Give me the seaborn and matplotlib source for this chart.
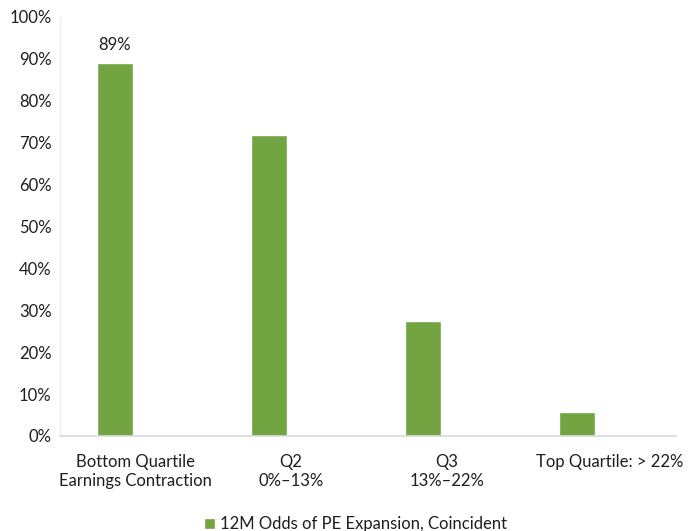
import matplotlib
matplotlib.use("Agg")
import matplotlib.pyplot as plt
import matplotlib.ticker as mticker
import numpy as np
import pandas as pd
import seaborn as sns

# Earnings-growth quartiles and the 12M odds of PE expansion in each
categories = ["Bottom Quartile\nEarnings Contraction", "Q2\n0%\u201313%", "Q3\n13%\u201322%", "Top Quartile: > 22%"]
odds = [89, 71.8, 27.4, 5.6]
series_name = "12M Odds of PE Expansion, Coincident"
y_ticks = [0, 10, 20, 30, 40, 50, 60, 70, 80, 90, 100]

sns.set_theme(style="white")
plt.rcParams["font.family"] = ["Lato", "DejaVu Sans"]

green = "#72A441"
txt = "#1E1E1E"
fs = 12
idx = np.arange(len(categories))
df = pd.DataFrame({"pos": idx - 0.143, "odds": odds, "series": series_name})

fig = plt.figure(figsize=(6.93, 5.31), dpi=100)
ax = fig.add_axes([0.0866, 0.179, 0.889, 0.789])

sns.barplot(data=df, x="pos", y="odds", hue="series", native_scale=True,
            palette=[green], width=0.228, saturation=1, ax=ax, legend=True)

ax.set_xlim(-0.5, len(categories) - 0.5)
ax.set_ylim(0, 100)
ax.set_xticks(idx + np.array([-0.01, 0.0, 0.01, 0.07]))
ax.set_xticklabels(categories, fontsize=fs, color=txt, linespacing=1.25)
ax.set_yticks(y_ticks)
ax.yaxis.set_major_formatter(mticker.FuncFormatter(lambda v, _: f"{v:.0f}%"))
ax.tick_params(axis="y", labelsize=fs, colors=txt, length=0, pad=6)
ax.tick_params(axis="x", length=0, pad=13)
ax.set_xlabel("")
ax.set_ylabel("")

for side in ["top", "right"]:
    ax.spines[side].set_visible(False)
ax.spines["left"].set_color("#EEEEEE")
ax.spines["left"].set_linewidth(1)
ax.spines["bottom"].set_color("#D9D9D9")
ax.spines["bottom"].set_linewidth(1.2)

# value label on the first bar
ax.text(idx[0] - 0.143, odds[0] + 2.5, f"{odds[0]:.0f}%", ha="center", va="bottom",
        fontsize=fs, color=txt)

leg = ax.legend(loc="upper center", bbox_to_anchor=(0.48, -0.175), frameon=False,
                fontsize=fs, handlelength=0.65, handleheight=0.65, handletextpad=0.3,
                borderaxespad=0)
for t in leg.get_texts():
    t.set_color(txt)

fig.savefig("out.png", dpi=100)
